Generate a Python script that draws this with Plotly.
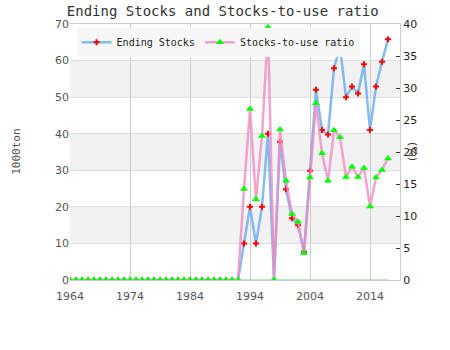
import plotly.graph_objects as go

years = list(range(1964, 2018))
ending_stocks = [0]*28 + [0, 10.0, 20.0, 10.0, 20.0, 40.0, 0, 37.8, 24.8, 16.9, 15.0, 7.7,
                          29.9, 52.0, 41.0, 39.8, 57.9, 63.8, 50.0, 52.9, 51.0, 59.0, 41.0,
                          52.9, 59.7, 65.8]
stocks_to_use = [0]*28 + [0, 14.2, 26.7, 12.6, 22.5, 39.5, 0, 23.5, 15.5, 10.3, 9.1, 4.2,
                          16.0, 27.6, 19.8, 15.5, 23.4, 22.3, 16.1, 17.7, 16.1, 17.5, 11.5,
                          16.0, 17.2, 19.0]
baseline = [0]*len(years)
x_ticks = [1964, 1974, 1984, 1994, 2004, 2014]
y_ticks = [0, 10, 20, 30, 40, 50, 60, 70]
y2_ticks = [0, 5, 10, 15, 20, 25, 30, 35, 40]

MONO = "DejaVu Sans Mono"
fig = go.Figure()

# light band shading
for lo in (10, 30, 50):
    fig.add_shape(type="rect", xref="paper", yref="y", x0=0, x1=1, y0=lo, y1=lo+10,
                  fillcolor="#f2f2f2", line_width=0, layer="below")

fig.add_trace(go.Scatter(x=years, y=baseline, mode="lines", yaxis="y2",
                         line=dict(color="#a8e6a0", width=1.5), showlegend=False,
                         hoverinfo="skip", cliponaxis=True))
fig.add_trace(go.Scatter(x=years, y=ending_stocks, name="Ending Stocks", mode="lines+markers",
                         line=dict(color="rgba(100,170,240,0.8)", width=2.5),
                         marker=dict(symbol="cross", size=5, color="#ff0000",
                                     line=dict(width=0)),
                         cliponaxis=True))
fig.add_trace(go.Scatter(x=years, y=stocks_to_use, name="Stocks-to-use ratio", mode="lines+markers",
                         yaxis="y2",
                         line=dict(color="rgba(240,140,195,0.8)", width=2.5),
                         marker=dict(symbol="triangle-up", size=7, color="#00ff00",
                                     line=dict(width=0)),
                         cliponaxis=True))

fig.update_layout(
    width=450, height=350,
    margin=dict(l=70, r=50, t=24, b=70),
    paper_bgcolor="white", plot_bgcolor="white",
    title=dict(text="Ending Stocks and Stocks-to-use ratio", x=0.495, xanchor="center",
               y=0.968, yanchor="middle",
               font=dict(family=MONO, size=14, color="#333333")),
    font=dict(family="DejaVu Sans", size=11, color="#555555"),
    showlegend=True,
    legend=dict(orientation="h", x=0.02, y=0.985, xanchor="left", yanchor="top",
                bgcolor="#f7f7f7", font=dict(family=MONO, size=10, color="#222222"),
                itemwidth=30, tracegroupgap=0),
    xaxis=dict(range=[1964, 2019], tickvals=x_ticks, showgrid=True, gridcolor="#cccccc",
               gridwidth=1, zeroline=False, showline=True, linecolor="#cccccc", mirror=True,
               ticks="", ticklabelstandoff=6, tickfont=dict(size=11, color="#555555")),
    yaxis=dict(range=[0, 70], tickvals=y_ticks, showgrid=True, gridcolor="#dddddd",
               zeroline=False, showline=False, ticks="",
               tickfont=dict(size=11, color="#555555")),
    yaxis2=dict(range=[0, 40], tickvals=y2_ticks, overlaying="y", side="right",
                showgrid=False, zeroline=False, showline=True, linecolor="#cccccc",
                ticks="inside", ticklen=4, tickcolor="#333333",
                tickfont=dict(size=11, color="#222222")),
    annotations=[
        dict(text="1000ton", xref="paper", yref="paper", x=-0.19, y=0.5, showarrow=False,
             textangle=-90, font=dict(family=MONO, size=11, color="#555555")),
        dict(text="(%)", xref="paper", yref="paper", x=1.065, y=0.5, showarrow=False,
             textangle=90, font=dict(size=11, color="#333333")),
    ],
)

fig.write_html("out.html")
